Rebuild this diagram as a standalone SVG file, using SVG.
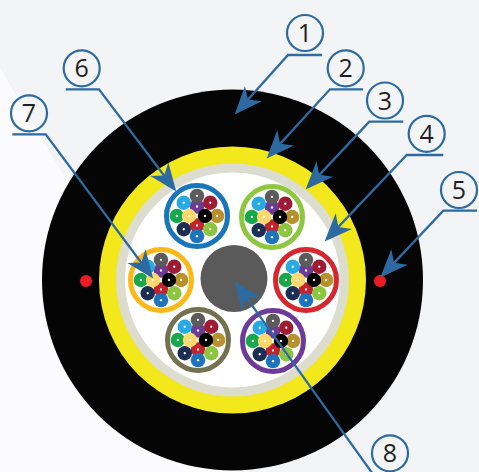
<svg xmlns="http://www.w3.org/2000/svg" xmlns:xlink="http://www.w3.org/1999/xlink" width="479" height="472" viewBox="0 0 479 472">
  <style>
    .tube { fill: #ffffff; stroke-width: 5; }
    .dot { fill: #ffffff; }
    .lead { fill: none; stroke: #2d6aa2; stroke-width: 2.3; stroke-linejoin: miter; }
    .badge { fill: none; stroke: #2d6aa2; stroke-width: 2.2; }
    .num { font-family: "Open Sans", "Liberation Sans", sans-serif; font-size: 25px; fill: #231f20; text-anchor: middle; }
  </style>
  <defs>
    <marker id="arrow" markerUnits="userSpaceOnUse" markerWidth="40" markerHeight="40" viewBox="-20 -12 30 24" refX="0" refY="0" orient="auto" overflow="visible">
      <path d="M6,0 L-15,-8.5 L-9,0 L-15,8.5 Z" fill="#2d6aa2"/>
    </marker>
    <!-- twelve-fibre bundle, centred on 0,0 -->
    <g id="bundle" transform="scale(1.06)">
      <circle cx="0" cy="-9" r="6.8" fill="#6d3b96"/>
      <circle cx="0" cy="9" r="6.8" fill="#c4232e"/>
      <circle cx="0" cy="-19" r="6.8" fill="#5b5b5b"/>
      <circle cx="-12.5" cy="-12.5" r="6.8" fill="#27aae1"/>
      <circle cx="12.5" cy="-12.5" r="6.8" fill="#9e1b32"/>
      <circle cx="-19" cy="0" r="6.8" fill="#17a84b"/>
      <circle cx="19" cy="0" r="6.8" fill="#b8912d"/>
      <circle cx="-12.5" cy="12.5" r="6.8" fill="#1c2e52"/>
      <circle cx="12.5" cy="12.5" r="6.8" fill="#8cc63f"/>
      <circle cx="0" cy="19" r="6.8" fill="#1c75bc"/>
      <circle cx="-7.5" cy="0" r="6.8" fill="#fcd96a"/>
      <circle cx="7.5" cy="0" r="6.8" fill="#000000"/>
      <g class="dot">
        <circle cx="0" cy="-9" r="1.1"/>
        <circle cx="0" cy="9" r="1.1"/>
        <circle cx="0" cy="-19" r="1.1"/>
        <circle cx="-12.5" cy="-12.5" r="1.1"/>
        <circle cx="12.5" cy="-12.5" r="1.1"/>
        <circle cx="-19" cy="0" r="1.1"/>
        <circle cx="19" cy="0" r="1.1"/>
        <circle cx="-12.5" cy="12.5" r="1.1"/>
        <circle cx="12.5" cy="12.5" r="1.1"/>
        <circle cx="0" cy="19" r="1.1"/>
        <circle cx="-7.5" cy="0" r="1.1"/>
        <circle cx="7.5" cy="0" r="1.1"/>
      </g>
    </g>
  </defs>

  <!-- backdrop -->
  <rect x="0" y="0" width="479" height="472" fill="#f3f4f6"/>
  <polygon points="0,68 240,472 0,472" fill="#fbfbfd"/>

  <!-- cable cross-section layers -->
  <g id="jacket">
    <circle cx="232.5" cy="280" r="190.5" fill="#050505"/>
  </g>
  <g id="strength-members">
    <circle cx="86" cy="281" r="6" fill="#ec1c24"/>
    <circle cx="380" cy="281" r="6" fill="#ec1c24"/>
  </g>
  <g id="armour">
    <circle cx="232.5" cy="280" r="133.5" fill="#f2e81c"/>
  </g>
  <g id="wrap">
    <circle cx="232.5" cy="280" r="116.5" fill="#dcdccf"/>
  </g>
  <g id="core">
    <circle cx="232.5" cy="280" r="107.5" fill="#ffffff"/>
  </g>
  <g id="central-member">
    <circle cx="234" cy="278.5" r="33.5" fill="#5a5a5a"/>
  </g>

  <!-- loose tubes -->
  <g id="tube-blue">
    <circle class="tube" cx="197" cy="216" r="30.5" stroke="#1a75bb"/>
    <use xlink:href="#bundle" x="197" y="216"/>
  </g>
  <g id="tube-green">
    <circle class="tube" cx="272" cy="217" r="30.5" stroke="#8dc63f"/>
    <use xlink:href="#bundle" x="272" y="217"/>
  </g>
  <g id="tube-red">
    <circle class="tube" cx="306" cy="280" r="30.5" stroke="#d7262e"/>
    <use xlink:href="#bundle" x="306" y="280"/>
  </g>
  <g id="tube-orange">
    <circle class="tube" cx="161" cy="280" r="30.5" stroke="#fbb817"/>
    <use xlink:href="#bundle" x="161" y="280"/>
  </g>
  <g id="tube-olive">
    <circle class="tube" cx="198" cy="340" r="30.5" stroke="#73714f"/>
    <use xlink:href="#bundle" x="198" y="340"/>
  </g>
  <g id="tube-purple">
    <circle class="tube" cx="273" cy="341" r="30.5" stroke="#6d3a97"/>
    <use xlink:href="#bundle" x="273" y="341"/>
  </g>

  <!-- leader lines -->
  <g id="connectors">
    <polyline class="lead" points="322,55 288,55 240,108.5" marker-end="url(#arrow)"/>
    <polyline class="lead" points="363,89.3 330,89.3 272.1,152.6" marker-end="url(#arrow)"/>
    <polyline class="lead" points="403.3,121.7 369.3,121.7 311.1,183.6" marker-end="url(#arrow)"/>
    <polyline class="lead" points="443.3,155 406.7,155 330.1,235.6" marker-end="url(#arrow)"/>
    <polyline class="lead" points="477,210.7 443.3,210.7 385.8,271.6" marker-end="url(#arrow)"/>
    <polyline class="lead" points="65.7,89.3 99,89.3 171.4,185.2" marker-end="url(#arrow)"/>
    <polyline class="lead" points="12.3,134.3 45.7,134.3 148.4,272.2" marker-end="url(#arrow)"/>
    <polyline class="lead" points="380,484 239.5,287.9" marker-end="url(#arrow)"/>
  </g>

  <!-- numbered callouts -->
  <g id="label-1"><circle class="badge" cx="305" cy="33" r="18"/><text class="num" x="305" y="42">1</text></g>
  <g id="label-2"><circle class="badge" cx="345.7" cy="68.3" r="18"/><text class="num" x="345.7" y="77.3">2</text></g>
  <g id="label-3"><circle class="badge" cx="385" cy="100.5" r="18"/><text class="num" x="385" y="109.5">3</text></g>
  <g id="label-4"><circle class="badge" cx="426.7" cy="133.8" r="18"/><text class="num" x="426.7" y="142.8">4</text></g>
  <g id="label-5"><circle class="badge" cx="459" cy="190" r="18"/><text class="num" x="459" y="199">5</text></g>
  <g id="label-6"><circle class="badge" cx="81.7" cy="68.3" r="18"/><text class="num" x="81.7" y="77.3">6</text></g>
  <g id="label-7"><circle class="badge" cx="29" cy="113.3" r="18"/><text class="num" x="29" y="122.3">7</text></g>
  <g id="label-8"><circle class="badge" cx="390" cy="453.3" r="18"/><text class="num" x="390" y="462.3">8</text></g>
</svg>
